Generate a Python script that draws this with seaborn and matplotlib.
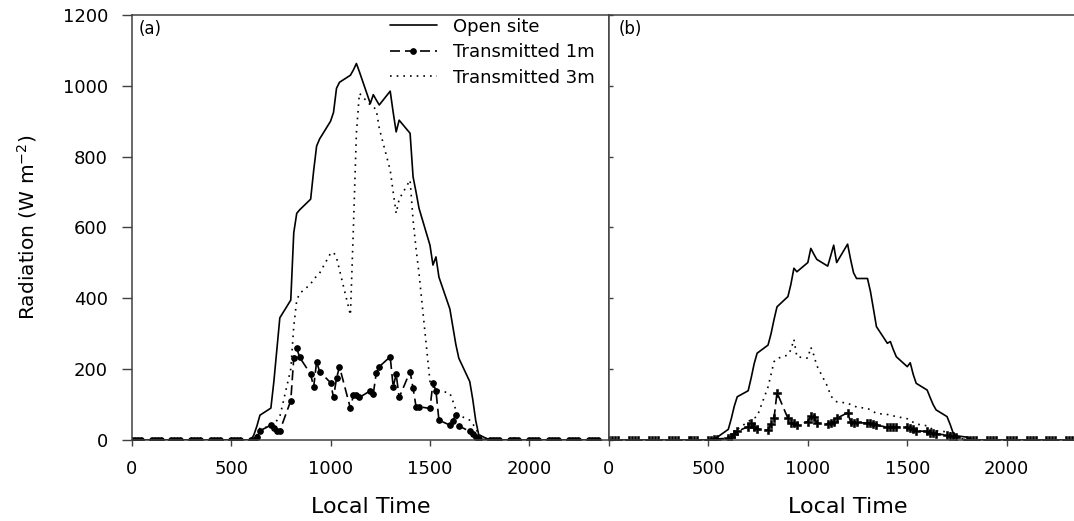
import matplotlib
matplotlib.use('Agg')
import matplotlib.pyplot as plt
import seaborn as sns

# local time as HHMM, every 15 minutes
time_hhmm = [
    0, 15, 30, 45, 100, 115, 130, 145, 200, 215, 230, 245,
    300, 315, 330, 345, 400, 415, 430, 445, 500, 515, 530, 545,
    600, 615, 630, 645, 700, 715, 730, 745, 800, 815, 830, 845,
    900, 915, 930, 945, 1000, 1015, 1030, 1045, 1100, 1115, 1130, 1145,
    1200, 1215, 1230, 1245, 1300, 1315, 1330, 1345, 1400, 1415, 1430, 1445,
    1500, 1515, 1530, 1545, 1600, 1615, 1630, 1645, 1700, 1715, 1730, 1745,
    1800, 1815, 1830, 1845, 1900, 1915, 1930, 1945, 2000, 2015, 2030, 2045,
    2100, 2115, 2130, 2145, 2200, 2215, 2230, 2245, 2300, 2315, 2330, 2345,
]

# (a) radiation, W m-2
open_a = [
    0, 0, 0, 0, 0, 0, 0, 0, 0, 0, 0, 0,
    0, 0, 0, 0, 0, 0, 0, 0, 0, 0, 0, 0,
    0, 15, 40, 70, 90, 165, 255, 345, 395, 585, 640, 650,
    680, 760, 830, 850, 900, 925, 993, 1010, 1030, 1045, 1063, 1040,
    950, 975, 960, 946, 985, 925, 870, 903, 866, 743, 700, 654,
    550, 494, 517, 460, 370, 320, 270, 231, 165, 115, 55, 15,
    0, 0, 0, 0, 0, 0, 0, 0, 0, 0, 0, 0,
    0, 0, 0, 0, 0, 0, 0, 0, 0, 0, 0, 0,
]
trans1_a = [
    0, 0, 0, 0, 0, 0, 0, 0, 0, 0, 0, 0,
    0, 0, 0, 0, 0, 0, 0, 0, 0, 0, 0, 0,
    0, 0, 9, 26, 42, 33, 24, 26, 111, 231, 259, 233,
    186, 149, 221, 193, 162, 120, 174, 207, 89, 127, 127, 120,
    139, 130, 190, 207, 235, 150, 186, 120, 193, 146, 94, 94,
    89, 162, 139, 56, 42, 55, 71, 40, 24, 17, 9, 3,
    0, 0, 0, 0, 0, 0, 0, 0, 0, 0, 0, 0,
    0, 0, 0, 0, 0, 0, 0, 0, 0, 0, 0, 0,
]
trans3_a = [
    0, 0, 0, 0, 0, 0, 0, 0, 0, 0, 0, 0,
    0, 0, 0, 0, 0, 0, 0, 0, 0, 0, 0, 0,
    0, 3, 15, 33, 38, 45, 55, 66, 200, 320, 395, 414,
    440, 455, 462, 471, 527, 530, 515, 480, 353, 600, 866, 979,
    946, 941, 932, 880, 762, 700, 640, 680, 734, 621, 540, 470,
    165, 150, 146, 140, 132, 110, 85, 70, 56, 45, 34, 15,
    0, 0, 0, 0, 0, 0, 0, 0, 0, 0, 0, 0,
    0, 0, 0, 0, 0, 0, 0, 0, 0, 0, 0, 0,
]

# (b)
open_b = [
    0, 0, 0, 0, 0, 0, 0, 0, 0, 0, 0, 0,
    0, 0, 0, 0, 0, 0, 0, 0, 0, 3, 5, 8,
    30, 60, 95, 122, 139, 175, 215, 245, 268, 300, 340, 376,
    405, 440, 485, 475, 501, 541, 525, 510, 491, 520, 550, 501,
    553, 510, 472, 456, 456, 419, 370, 320, 273, 278, 255, 235,
    207, 218, 185, 160, 141, 120, 100, 85, 66, 45, 21, 12,
    8, 4, 0, 0, 0, 0, 0, 0, 0, 0, 0, 0,
    0, 0, 0, 0, 0, 0, 0, 0, 0, 0, 0, 0,
]
trans1_b = [
    0, 0, 0, 0, 0, 0, 0, 0, 0, 0, 0, 0,
    0, 0, 0, 0, 0, 0, 0, 0, 0, 0, 2, 3,
    5, 8, 17, 24, 38, 49, 38, 30, 28, 45, 61, 134,
    61, 47, 49, 42, 52, 68, 66, 47, 45, 47, 52, 61,
    77, 52, 49, 50, 47, 48, 45, 42, 36, 38, 38, 36,
    36, 33, 30, 26, 24, 21, 19, 17, 14, 12, 10, 8,
    0, 0, 0, 0, 0, 0, 0, 0, 0, 0, 0, 0,
    0, 0, 0, 0, 0, 0, 0, 0, 0, 0, 0, 0,
]
trans3_b = [
    0, 0, 0, 0, 0, 0, 0, 0, 0, 0, 0, 0,
    0, 0, 0, 0, 0, 0, 0, 0, 0, 0, 0, 0,
    3, 10, 18, 30, 52, 57, 62, 66, 150, 185, 221, 230,
    240, 255, 284, 235, 231, 262, 240, 210, 150, 125, 115, 108,
    104, 100, 97, 93, 89, 85, 80, 75, 72, 70, 68, 66,
    60, 55, 50, 45, 40, 35, 28, 26, 23, 20, 15, 8,
    0, 0, 0, 0, 0, 0, 0, 0, 0, 0, 0, 0,
    0, 0, 0, 0, 0, 0, 0, 0, 0, 0, 0, 0,
]

sns.set_style('ticks')
plt.rcParams['font.family'] = ['DejaVu Sans']
plt.rcParams['text.color'] = 'black'
plt.rcParams['axes.labelcolor'] = 'black'
plt.rcParams['xtick.color'] = 'black'
plt.rcParams['ytick.color'] = 'black'

fig = plt.figure(figsize=(10.74, 5.21), dpi=100)
ax_a = fig.add_axes([0.1226, 0.1555, 0.4444, 0.8157])
ax_b = fig.add_axes([0.567, 0.1555, 0.4444, 0.8157])

spine_col = '#404040'


def draw_panel(ax, open_v, t1_v, t3_v, mk, ms, mew):
    sns.lineplot(x=time_hhmm, y=open_v, ax=ax, color='black', lw=1.2,
                 label='Open site')
    sns.lineplot(x=time_hhmm, y=t1_v, ax=ax, color='black', lw=1.2,
                 linestyle=(0, (6, 3)), marker=mk, markersize=ms,
                 markeredgewidth=mew, markeredgecolor='black',
                 label='Transmitted 1m')
    sns.lineplot(x=time_hhmm, y=t3_v, ax=ax, color='black', lw=1.2,
                 linestyle=(0, (1, 3)), label='Transmitted 3m')
    ax.set_xlim(0, 2400)
    ax.set_ylim(0, 1200)
    ax.set_xticks([0, 500, 1000, 1500, 2000])
    ax.set_yticks([0, 200, 400, 600, 800, 1000, 1200])
    for s in ax.spines.values():
        s.set_color(spine_col)
        s.set_linewidth(1.1)
    ax.tick_params(axis='x', direction='out', length=4.5, width=1,
                   color=spine_col, labelsize=13, pad=10)
    ax.set_xlabel('Local Time', fontsize=16)
    ax.xaxis.set_label_coords(0.5, -0.135)


draw_panel(ax_a, open_a, trans1_a, trans3_a, 'o', 4, 0.8)
draw_panel(ax_b, open_b, trans1_b, trans3_b, 'P', 5.5, 0.4)

ax_a.tick_params(axis='y', direction='out', length=7, width=1,
                 color=spine_col, labelsize=13, pad=10)
ax_a.set_ylabel('Radiation (W m$^{-2}$)', fontsize=14.5)
ax_a.yaxis.set_label_coords(-0.195, 0.5)

ax_b.tick_params(axis='y', direction='in', length=3, width=1,
                 color=spine_col, labelleft=False)
ax_b.set_ylabel('')
ax_b.get_legend().remove()

ax_a.legend(loc='upper left', bbox_to_anchor=(0.541, 0.994), frameon=False,
            fontsize=13, handlelength=2.6, handletextpad=0.9,
            labelspacing=0.42, borderpad=0, borderaxespad=0)

ax_a.text(0.014, 0.988, '(a)', transform=ax_a.transAxes, fontsize=12,
          ha='left', va='top')
ax_b.text(0.021, 0.988, '(b)', transform=ax_b.transAxes, fontsize=12,
          ha='left', va='top')

fig.savefig('out.png', dpi=100)
